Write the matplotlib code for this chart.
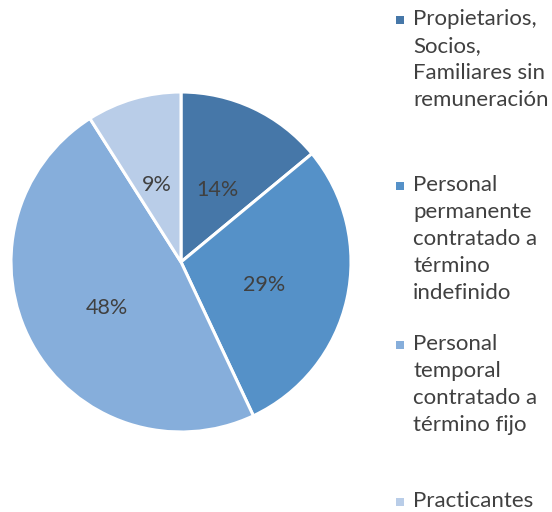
import matplotlib
matplotlib.use("Agg")
import matplotlib.pyplot as plt

labels = ["Propietarios,\nSocios,\nFamiliares sin\nremuneración",
          "Personal\npermanente\ncontratado a\ntérmino\nindefinido",
          "Personal\ntemporal\ncontratado a\ntérmino fijo",
          "Practicantes"]
values = [14, 29, 48, 9]
colors = ["#4677A8", "#5591C8", "#86AEDB", "#B9CDE8"]
legend_y = [20, 186, 345, 502]  # pixel y of marker of each entry

plt.rcParams['font.family'] = ['Lato', 'DejaVu Sans']
W, H = 552, 512
fig = plt.figure(figsize=(W/100, H/100), dpi=100)
cx, cy, r = 181, 262, 170
ax = fig.add_axes([(cx-r)/W, (H-cy-r)/H, 2*r/W, 2*r/H])
wedges, texts = ax.pie(values, colors=colors, startangle=90, counterclock=False,
                       labels=[f"{v}%" for v in values], labeldistance=0.5,
                       wedgeprops=dict(edgecolor="white", linewidth=2.2),
                       textprops=dict(color="#404040", fontsize=15.5))
for t in texts:
    t.set_ha('center')
    t.set_va('center')
    x, y = t.get_position()
    t.set_position((x, y - 0.027))
ax.set_xlim(-1, 1); ax.set_ylim(-1, 1)
ax.set_aspect('equal')
ax.axis('off')

for lab, col, yy in zip(labels, colors, legend_y):
    fig.patches.append(plt.Rectangle(((400-4)/W, (H-yy-4)/H), 8/W, 8/H,
                                     transform=fig.transFigure, facecolor=col, edgecolor='none'))
    fig.text(413/W, (H-yy+11)/H, lab, ha='left', va='top', fontsize=16,
             color="#404040", linespacing=1.43,
             transform=fig.transFigure)

fig.savefig("out.png", dpi=100)
